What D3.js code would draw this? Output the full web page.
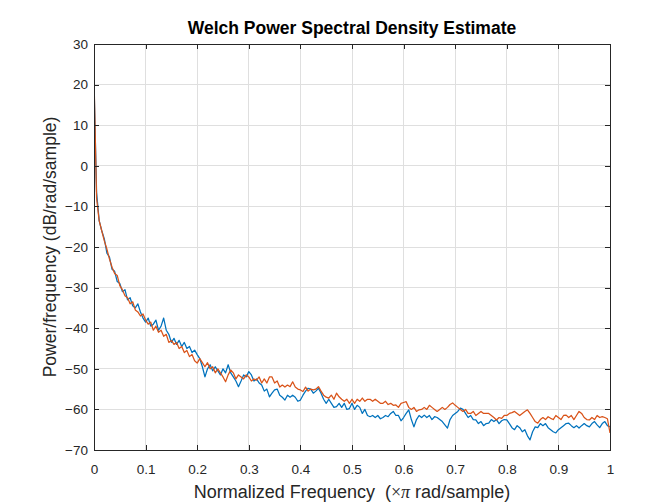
<!DOCTYPE html>
<html>
<head>
<meta charset="utf-8">
<script src="https://cdn.jsdelivr.net/npm/d3@7"></script>
<style>
  html, body { margin: 0; padding: 0; background: #ffffff; }
  svg { display: block; }
</style>
</head>
<body>
<svg id="chart" width="662" height="502"></svg>
<script>
// ---- data ----
const titleText = "Welch Power Spectral Density Estimate";
const xLabelText = "Normalized Frequency";
const yLabelText = "Power/frequency (dB/rad/sample)";
const xTicks = [0, 0.1, 0.2, 0.3, 0.4, 0.5, 0.6, 0.7, 0.8, 0.9, 1];
const yTicks = [-70, -60, -50, -40, -30, -20, -10, 0, 10, 20, 30];
const freqStep = 0.005; // normalized frequency spacing of the PSD bins

const psdBlue = [
  20.5, -6.5, -13.5, -16, -18, -21.5, -22.5, -25.5, -26, -28.5,
  -29, -31, -30.5, -33, -32.5, -34.5, -35, -34, -36, -37.5,
  -38.5, -37.5, -39.5, -39, -38, -40.5, -39.5, -37.5, -40.5, -41.5,
  -43.5, -42.5, -44, -43, -44.5, -43.5, -45, -44.5, -46, -45.4,
  -46.5, -47.5, -49.5, -52, -50, -49, -50.5, -49.5, -50.5, -51.5,
  -50, -51, -49, -51, -52, -53, -54.4, -53, -51.5, -52,
  -50.7, -51.5, -53, -52.5, -53.5, -54, -55.5, -55, -56.9, -56,
  -55.2, -55, -56.5, -57, -57.7, -56.5, -57, -56.5, -57, -58,
  -57.7, -56.5, -55.5, -54.8, -55, -56, -55.5, -54.8, -56, -57.5,
  -58.5, -57.5, -58.5, -59.5, -59.3, -58.5, -59.5, -58.5, -60, -59.8,
  -58.5, -60, -59, -59.5, -61, -60, -61.5, -61.8, -61.5, -62,
  -61.5, -62.3, -62, -61.5, -61.8, -61, -60.5, -61.5, -61.5, -62.8,
  -62, -61, -60.1, -62.5, -64.3, -62.5, -61.5, -62, -61.4, -62,
  -61.5, -62.5, -61.8, -62, -62.5, -63, -63.8, -64.6, -62.5, -61.5,
  -61, -60.5, -59.7, -60, -61, -62, -61.5, -62.5, -62.6, -63.5,
  -63, -64, -63.5, -63.4, -62.5, -63, -62.5, -63.5, -62.8, -62.5,
  -62.6, -63.5, -64.5, -65, -64, -64.5, -65.5, -65, -66.5, -67.5,
  -65.5, -64.3, -64.5, -63.5, -64, -63.5, -64.5, -65, -65.5, -65.8,
  -65, -64.5, -64, -63.5, -63.4, -64, -64.5, -64, -64.6, -64,
  -63.5, -64, -64.3, -63.5, -63, -63.8, -64.5, -63.5, -63, -64, -64.3
];

const psdOrange = [
  21.8, -8, -13.5, -16, -18.5, -20.5, -23, -25, -26.5, -27,
  -29.5, -30.5, -32, -32.5, -34, -33.5, -35.5, -36, -37, -36.5,
  -38, -39, -38.5, -40.5, -39.5, -41, -40.5, -42, -41.5, -43.5,
  -43, -44, -43.5, -45, -44.5, -46, -45.5, -47, -46.5, -48,
  -48.6, -47.5, -48.5, -49.5, -48.5, -50, -49.5, -51, -50, -51,
  -52, -53.2, -51.5, -50.3, -51, -52.5, -51.5, -52, -52.5, -51.5,
  -52, -53, -52.5, -52.8, -52, -53.5, -52.5, -53.5, -52, -52,
  -53.5, -53, -54.5, -54, -54.5, -54, -54.4, -53.2, -54.5, -55,
  -55.2, -55.6, -54.5, -55.5, -55, -55.2, -55, -54.4, -55.5, -56.5,
  -57, -57.2, -56.5, -57.5, -56, -56.9, -57.5, -58, -57.5, -58.5,
  -57.5, -58.5, -57.5, -58, -57.2, -58, -57.5, -57.5, -58, -57.5,
  -58, -58.5, -58.5, -58, -58.8, -58.5, -59, -58.9, -59.5, -58.5,
  -58.3, -58.1, -59.5, -60, -59.5, -60.5, -60.1, -60, -59.5, -60,
  -59, -59.5, -60, -60.5, -60, -59.5, -60, -59.5, -58.8, -58.4,
  -59, -59.5, -60, -60.5, -60, -61, -61, -60.5, -61.5, -61,
  -60.5, -61, -61, -61, -61.5, -62, -62.6, -62, -62.2, -61.5,
  -61.5, -61, -60.8, -60.5, -61, -61.5, -61, -60.5, -60.1, -61,
  -62, -63, -63.4, -62.5, -62, -62.5, -61.8, -62.2, -62.5, -61.5,
  -62, -62.5, -61.5, -61.4, -62, -61.5, -62.5, -61.5, -60.5, -61,
  -62, -62.5, -62.6, -62, -62.5, -61.5, -62, -61.8, -62, -62.3, -65.8
];

// ---- layout ----
const W = 662, H = 502;
const plot = { left: 94, top: 44, right: 610, bottom: 450 };
const axisColor = "#262626";
const gridColor = "#dfdfdf";
const tickLen = 5;

const svg = d3.select("#chart");
svg.append("rect").attr("width", W).attr("height", H).attr("fill", "#ffffff");

const x = d3.scaleLinear().domain([0, 1]).range([plot.left, plot.right]);
const y = d3.scaleLinear().domain([-70, 30]).range([plot.bottom, plot.top]);

// grid
const grid = svg.append("g");
grid.selectAll("line.gx").data(xTicks.slice(1, -1)).join("line")
  .attr("x1", d => x(d)).attr("x2", d => x(d))
  .attr("y1", plot.top).attr("y2", plot.bottom)
  .attr("stroke", gridColor).attr("stroke-width", 1).attr("shape-rendering", "crispEdges");
grid.selectAll("line.gy").data(yTicks.slice(1, -1)).join("line")
  .attr("y1", d => y(d)).attr("y2", d => y(d))
  .attr("x1", plot.left).attr("x2", plot.right)
  .attr("stroke", gridColor).attr("stroke-width", 1).attr("shape-rendering", "crispEdges");

// clip
svg.append("clipPath").attr("id", "clip").append("rect")
  .attr("x", plot.left).attr("y", plot.top)
  .attr("width", plot.right - plot.left).attr("height", plot.bottom - plot.top);

const line = d3.line().x((d, i) => x(i * freqStep)).y(d => y(d));
const lines = svg.append("g").attr("clip-path", "url(#clip)");
lines.append("path").datum(psdBlue).attr("d", line)
  .attr("fill", "none").attr("stroke", "#0072BD").attr("stroke-width", 1.25).attr("stroke-linejoin", "round");
lines.append("path").datum(psdOrange).attr("d", line)
  .attr("fill", "none").attr("stroke", "#D95319").attr("stroke-width", 1.25).attr("stroke-linejoin", "round");

// axes (MATLAB style: inward ticks, box on)
const fontFam = "'Liberation Sans', Arial, Helvetica, sans-serif";
const fmt = d => String(d).replace("-", "\u2212");
const xAxisB = d3.axisBottom(x).tickValues(xTicks).tickSize(-tickLen).tickPadding(14).tickFormat(fmt);
const xAxisT = d3.axisTop(x).tickValues(xTicks).tickSize(-tickLen).tickFormat("");
const yAxisL = d3.axisLeft(y).tickValues(yTicks).tickSize(-tickLen).tickPadding(6).tickFormat(fmt);
const yAxisR = d3.axisRight(y).tickValues(yTicks).tickSize(-tickLen).tickFormat("");

function styleAxis(g) {
  g.selectAll("path.domain").attr("stroke", axisColor).attr("stroke-width", 1).attr("shape-rendering", "crispEdges");
  g.selectAll(".tick line").attr("stroke", axisColor).attr("stroke-width", 1).attr("shape-rendering", "crispEdges");
  g.selectAll(".tick text").attr("fill", axisColor)
    .style("font-family", fontFam).style("font-size", "13.5px");
}
svg.append("g").attr("transform", `translate(0,${plot.bottom})`).call(xAxisB).call(styleAxis);
svg.append("g").attr("transform", `translate(0,${plot.top})`).call(xAxisT).call(styleAxis);
svg.append("g").attr("transform", `translate(${plot.left},0)`).call(yAxisL).call(styleAxis);
svg.append("g").attr("transform", `translate(${plot.right},0)`).call(yAxisR).call(styleAxis);

// title
svg.append("text")
  .attr("x", (plot.left + plot.right) / 2).attr("y", 34)
  .attr("text-anchor", "middle")
  .style("font-family", fontFam).style("font-size", "17.5px").style("font-weight", "bold")
  .attr("fill", "#000000")
  .text(titleText);

// x label
const serif = "'Liberation Serif', 'DejaVu Serif', serif";
const xl = svg.append("text")
  .attr("x", (plot.left + plot.right) / 2).attr("y", 498)
  .attr("text-anchor", "middle")
  .style("font-family", fontFam).style("font-size", "18px")
  .attr("fill", axisColor);
xl.append("tspan").text(xLabelText + "\u00a0\u00a0(");
xl.append("tspan").style("font-family", serif).text("\u00d7");
xl.append("tspan").style("font-family", serif).style("font-style", "italic").text("\u03c0");
xl.append("tspan").text(" rad/sample)");

// y label
svg.append("text")
  .attr("transform", `translate(56,${(plot.top + plot.bottom) / 2}) rotate(-90)`)
  .attr("text-anchor", "middle")
  .style("font-family", fontFam).style("font-size", "17.5px")
  .attr("fill", axisColor)
  .text(yLabelText);
</script>
</body>
</html>
